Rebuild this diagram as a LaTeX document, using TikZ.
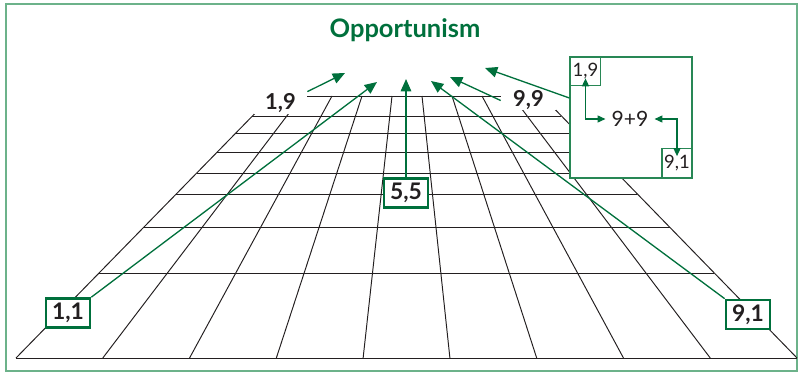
\documentclass[tikz,border=0pt]{standalone}
\usepackage{fontspec}
\setmainfont{Lato}
\usetikzlibrary{arrows.meta}
\definecolor{oppgreen}{RGB}{0,112,60}
\definecolor{insetgreen}{RGB}{40,135,85}
\definecolor{framegreen}{RGB}{108,178,138}
\definecolor{inkgrey}{RGB}{35,31,32}
\begin{document}
\begin{tikzpicture}[x=0.02cm, y=-0.02cm,
  gridline/.style={inkgrey, line width=0.55pt},
  cornerlabel/.style={fill=white, inner sep=0pt, text=inkgrey,
    font=\fontsize{12.5}{14}\selectfont\bfseries},
  pairbox/.style={draw=oppgreen, line width=1.5pt, fill=white, inner sep=0pt,
    minimum width=0.88cm, minimum height=0.58cm, text=inkgrey,
    font=\fontsize{13}{15}\selectfont\bfseries},
  smallbox/.style={draw=insetgreen, line width=0.7pt, inner sep=0pt,
    minimum width=0.6cm, minimum height=0.57cm, text=inkgrey,
    font=\fontsize{10.5}{12}\selectfont},
  moveline/.style={oppgreen, line width=0.75pt, -{Triangle[length=7pt,width=6pt]}},
  sumline/.style={oppgreen, line width=0.7pt,
    {Triangle[length=4.5pt,width=4pt]}-{Triangle[length=4.5pt,width=4pt]}}]
  \useasboundingbox (0,0) rectangle (800,372);
  \draw[framegreen, line width=1.3pt] (6,4) rectangle (797,371);
  \node[text=oppgreen, font=\fontsize{14.5}{17}\selectfont\bfseries] (title) at (405,30) {Opportunism};
  % floor grid
  \foreach \i in {0,...,9}
    \draw[gridline] ({16+86.78*\i},358) -- ({272+30*\i},96);
  \foreach \r in {96,116,133,152,173,194,227,273,358}
    \draw[gridline] ({16+0.9771*(358-\r)},\r) -- ({797-0.9733*(358-\r)},\r);
  % corners and pairs
  \node[cornerlabel, minimum width=1.06cm, minimum height=0.45cm] (l19) at (280.5,103.25) {1,9};
  \node[cornerlabel, minimum width=1.1cm, minimum height=0.38cm] (l99) at (528.5,100.5) {9,9};
  \node[pairbox] (b11) at (68,313) {1,1};
  \node[pairbox] (b55) at (406,193) {5,5};
  \node[pairbox] (b91) at (748,314.5) {9,1};
  % inset
  \node[draw=insetgreen, line width=0.7pt, fill=white, minimum width=2.44cm, minimum height=2.42cm] (inset) at (631,117.5) {};
  \node[smallbox] (s19) at (585.5,71.5) {1,9};
  \node[smallbox] (s91) at (677,163) {9,1};
  \node[text=inkgrey, font=\fontsize{12}{14}\selectfont] (sum) at (630,119) {9+9};
  \draw[sumline, shorten <=-0.16cm] (s19) |- (sum);
  \draw[sumline, shorten >=-0.16cm] (sum) -| (s91);
  % moves
  \coordinate (tA) at (345,73);
  \coordinate (tB) at (377,82);
  \coordinate (tC) at (406,79);
  \coordinate (tD) at (431,81);
  \coordinate (tE) at (450,77);
  \coordinate (tF) at (485,68);
  \draw[moveline] (l19.north east) -- (tA);
  \draw[moveline] (b11.north east) -- (tB);
  \draw[moveline] (b55) -- (tC);
  \draw[moveline] (b91.north west) -- (tD);
  \draw[moveline] (l99.west) -- (tE);
  \draw[moveline] ([yshift=0.39cm]inset.west) -- (tF);
\end{tikzpicture}
\end{document}
